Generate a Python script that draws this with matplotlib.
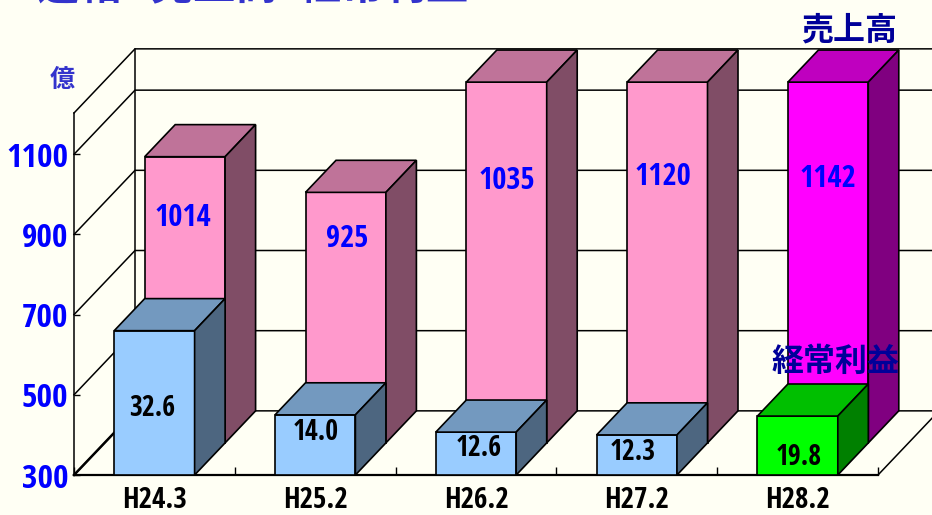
import matplotlib
matplotlib.use("Agg")
import matplotlib.pyplot as plt
from matplotlib.patches import Polygon

W, H = 932, 515
BG = "#FFFFF4"
LATIN = ["Open Sans Condensed", "Roboto Condensed", "DejaVu Sans"]
plt.rcParams["font.family"] = ["Noto Sans CJK JP", "DejaVu Sans"]

# datos del grafico
categories = ["H24.3", "H25.2", "H26.2", "H27.2", "H28.2"]
sales_labels = ["1014", "925", "1035", "1120", "1142"]
profit_labels = ["32.6", "14.0", "12.6", "12.3", "19.8"]
sales_drawn = [1014, 925, 1200, 1200, 1200]     # las barras se cortan en el tope del eje
profit_drawn = [660, 450, 407, 400, 447]        # leidas sobre la escala de la izquierda
y_ticks = [300, 500, 700, 900, 1100]
y_min, y_max = 300, 1203

# desplazamiento de las etiquetas respecto al tope de la barra (pixeles)
sales_off = [-61, -47, -99, -95, -97]
profit_off = [-78, -18, -16, -18, -41]
sales_dx = [-2, 1, 0, -4, 0]
profit_dx = [-2, 1, 3, -4, 1]

# 3d
depth_x = 61 / 160.8
depth_y = 64 / 0.4


def p(x, v, d):
    return (x + d * depth_x, v + d * depth_y)


def box(ax, x0, x1, v, d0, d1, front, top, side, z):
    b = y_min
    ax.add_patch(Polygon([p(x0, b, d0), p(x1, b, d0), p(x1, v, d0), p(x0, v, d0)],
                         fc=front, ec="black", lw=1.2, clip_on=False, zorder=z))
    ax.add_patch(Polygon([p(x0, v, d0), p(x1, v, d0), p(x1, v, d1), p(x0, v, d1)],
                         fc=top, ec="black", lw=1.2, clip_on=False, zorder=z))
    ax.add_patch(Polygon([p(x1, b, d0), p(x1, b, d1), p(x1, v, d1), p(x1, v, d0)],
                         fc=side, ec="black", lw=1.2, clip_on=False, zorder=z))


fig = plt.figure(figsize=(W / 100, H / 100), dpi=100, facecolor=BG)
ax = fig.add_axes([74 / W, 40 / H, 804 / W, 362 / H])
ax.patch.set_alpha(0)
ax.set_xlim(0, len(categories))
ax.set_ylim(y_min, y_max)

# paredes y rejilla
for v in y_ticks + [y_max]:
    xs, ys = zip(p(0, v, 0), p(0, v, 1), p(5, v, 1))
    ax.plot(xs, ys, color="black", lw=1.1, clip_on=False, zorder=1)
xs, ys = zip(p(0, y_min, 1), p(0, y_max, 1))
ax.plot(xs, ys, color="black", lw=1.1, clip_on=False, zorder=1)
xs, ys = zip(p(5, y_min, 0), p(5, y_min, 1))
ax.plot(xs, ys, color="black", lw=1.1, clip_on=False, zorder=1)
xs, ys = zip(p(0, y_min, 0), p(0, y_min, 1))
ax.plot(xs, ys, color="black", lw=1.8, clip_on=False, zorder=1)

for i in range(len(categories)):
    last = i == len(categories) - 1
    c_s = ("#FF00FF", "#BF00BF", "#800080") if last else ("#FF99CC", "#BF7399", "#804D66")
    c_p = ("#00FF00", "#00BF00", "#008000") if last else ("#99CCFF", "#7399BF", "#4D6680")
    box(ax, i + 0.25, i + 0.75, sales_drawn[i], 0.5, 1.0, *c_s, 3)
    box(ax, i + 0.25, i + 0.75, profit_drawn[i], 0.0, 0.5, *c_p, 4)
    cx, cy = p(i + 0.5, sales_drawn[i], 0.5)
    ax.annotate(sales_labels[i], (cx, cy), xytext=(sales_dx[i] * 0.72, sales_off[i] * 0.72),
                textcoords="offset points", ha="center", va="center", color="#0000FF",
                fontsize=22, fontweight="bold", family=LATIN, zorder=6, annotation_clip=False)
    ax.annotate(profit_labels[i], (i + 0.5, profit_drawn[i]),
                xytext=(profit_dx[i] * 0.72, profit_off[i] * 0.72),
                textcoords="offset points", ha="center", va="center", color="black",
                fontsize=20, fontweight="bold", family=LATIN, zorder=6, annotation_clip=False)

# ejes
for s in ["top", "right"]:
    ax.spines[s].set_visible(False)
ax.spines["left"].set_linewidth(1.1)
ax.spines["bottom"].set_linewidth(1.6)
ax.set_yticks(y_ticks)
ax.set_yticklabels([str(v) for v in y_ticks], color="#0000FF", fontsize=24,
                   fontweight="bold", family=LATIN)
ax.set_xticks(range(len(categories) + 1))
ax.set_xticklabels([])
ax.set_xticks([i + 0.5 for i in range(len(categories))], minor=True)
ax.set_xticklabels(categories, minor=True, fontsize=21, fontweight="bold", family=LATIN)
ax.tick_params(axis="y", direction="in", length=4.5, width=1, pad=4)
ax.tick_params(axis="x", which="major", direction="in", length=6, width=1)
ax.tick_params(axis="x", which="minor", length=0, pad=8)
for t in ax.get_xticklines() + ax.get_yticklines():
    t.set_zorder(2)

# textos
fig.text(37 / W, 1 + 2 / H, "連結   売上高･経常利益", color="#3333CC", fontsize=30.5,
         fontweight="bold", ha="left", va="baseline")
fig.text(62 / W, 1 - 80 / H, "億", color="#3333CC", fontsize=18, fontweight="bold",
         ha="center", va="center")
fig.text(849 / W, 1 - 31 / H, "売上高", color="#000099", fontsize=23, fontweight="bold",
         ha="center", va="center")
fig.text(836 / W, 1 - 362 / H, "経常利益", color="#000099", fontsize=23, fontweight="bold",
         ha="center", va="center", zorder=10)

fig.savefig("out.png", dpi=100, facecolor=BG)
